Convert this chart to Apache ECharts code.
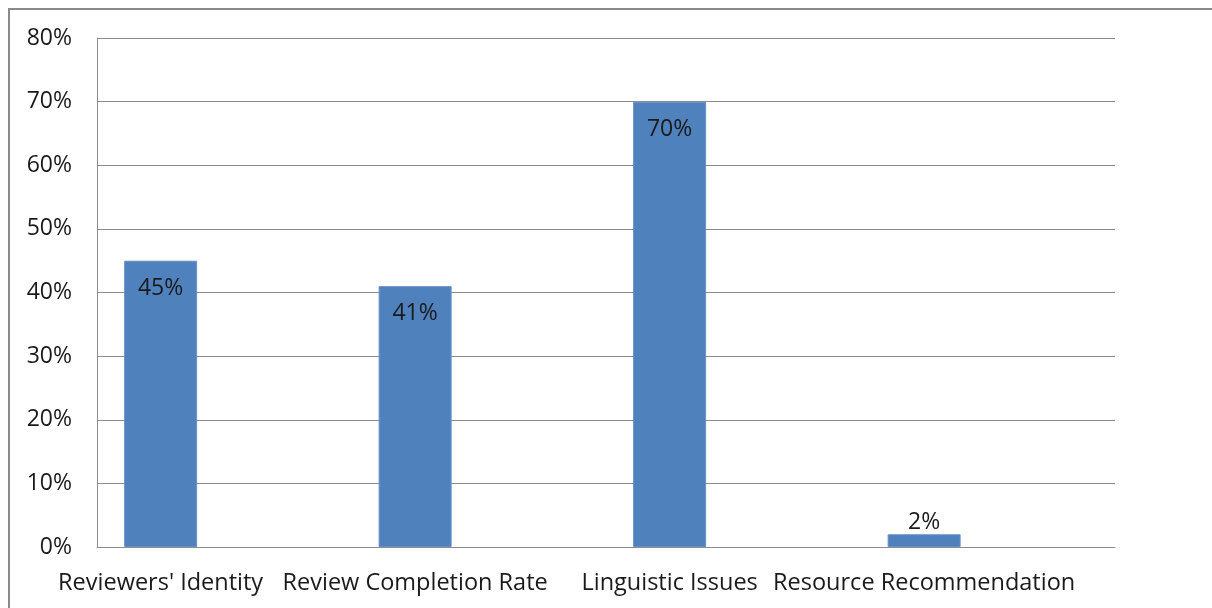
<!DOCTYPE html>
<html>
<head>
<meta charset="utf-8">
<title>Reviewer-related items</title>
<script src="https://cdn.jsdelivr.net/npm/echarts@6/dist/echarts.min.js"></script>
<style>
  html, body { margin: 0; padding: 0; background: #ffffff; }
  #chart { width: 1212px; height: 608px; }
</style>
</head>
<body>
<div id="chart"></div>
<script>
// Categories and their percentages
const categories = ["Reviewers' Identity", 'Review Completion Rate', 'Linguistic Issues', 'Resource Recommendation'];
const percentages = [45, 41, 70, 2];
const yTicks = [0, 10, 20, 30, 40, 50, 60, 70, 80];

const FONT = '"Open Sans", "Noto Sans", sans-serif';
const TEXT = '#1a1a1a';
const GRID = '#8c8c8c';

const chart = echarts.init(document.getElementById('chart'), null, { renderer: 'canvas' });

const barData = percentages.map((v, i) => {
  const item = { value: [i, v] };
  // very short bars carry their label above
  if (v < 8) {
    item.label = { position: 'top', distance: 0 };
  }
  return item;
});

chart.setOption({
  animation: false,
  backgroundColor: '#ffffff',
  textStyle: { fontFamily: FONT },
  grid: { left: 97, right: 97, top: 38, bottom: 61, containLabel: false },
  graphic: [{
    type: 'rect',
    shape: { x: 9, y: 9, width: 1240, height: 640 },
    style: { fill: 'none', stroke: '#8a8a8a', lineWidth: 2 },
    silent: true
  }],
  xAxis: {
    type: 'value',
    min: -0.25,
    max: 3.75,
    splitLine: { show: false },
    axisLine: { show: true, onZero: false, lineStyle: { color: GRID, width: 1 } },
    axisTick: { show: false },
    axisLabel: {
      customValues: categories.map((c, i) => i),
      formatter: v => categories[Math.round(v)] || '',
      color: TEXT,
      fontFamily: FONT,
      fontSize: 23.5,
      margin: 24,
      showMinLabel: true,
      showMaxLabel: true
    }
  },
  yAxis: {
    type: 'value',
    min: yTicks[0],
    max: yTicks[yTicks.length - 1],
    interval: yTicks[1] - yTicks[0],
    axisLine: { show: true, onZero: false, lineStyle: { color: GRID, width: 1 } },
    axisTick: { show: false },
    splitLine: { show: true, lineStyle: { color: GRID, width: 1 } },
    axisLabel: {
      formatter: v => v + '%',
      color: TEXT,
      fontFamily: FONT,
      fontSize: 23,
      margin: 25
    }
  },
  series: [{
    type: 'bar',
    data: barData,
    barWidth: 73,
    itemStyle: { color: '#4f81bd', borderColor: '#6690c6', borderWidth: 1 },
    label: {
      show: true,
      position: 'insideTop',
      distance: 16,
      formatter: p => p.value[1] + '%',
      color: TEXT,
      fontFamily: FONT,
      fontSize: 23
    }
  }]
});
</script>
</body>
</html>
